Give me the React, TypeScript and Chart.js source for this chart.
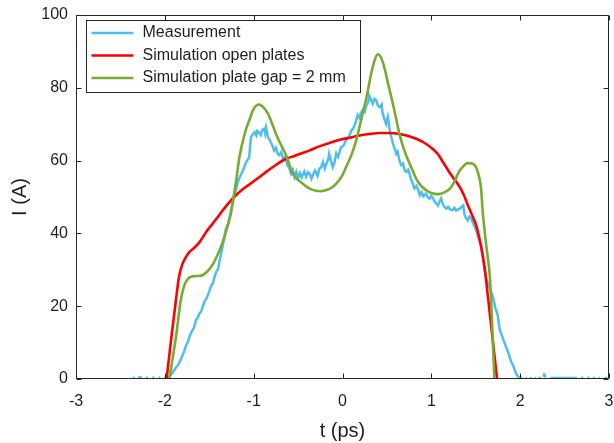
import React, { useEffect, useRef } from "react";
import { Chart, registerables } from "chart.js";

Chart.register(...registerables);

const FONT = '"Liberation Sans", Arial, Helvetica, sans-serif';
const INK = "#1f1f1f";
const AXIS = "#262626";

const seriesLabels = ["Measurement", "Simulation open plates", "Simulation plate gap = 2 mm"];
const seriesColors = ["#4DBEEE", "#FF0000", "#77AC30"];

const xTickValues = [-3, -2, -1, 0, 1, 2, 3];
const yTickValues = [0, 20, 40, 60, 80, 100];

// Measurement (noisy), null = gap
const measT = [
  -2.36, -2.34, -2.32, -2.30, -2.28, -2.26, -2.24, -2.21, -2.19, -2.17, -2.14, -2.12, -2.10, -2.07, -2.05, -2.03, -2.01, -1.98,
  -1.95, -1.92, -1.89, -1.86, -1.84, -1.81, -1.78, -1.76, -1.74, -1.72, -1.69, -1.67, -1.65, -1.63, -1.61, -1.59, -1.575,
  -1.55, -1.53, -1.50, -1.48, -1.46, -1.44, -1.42, -1.40, -1.39, -1.37, -1.35, -1.33, -1.31, -1.29, -1.27, -1.255, -1.24,
  -1.22, -1.20, -1.18, -1.16, -1.14, -1.12, -1.10, -1.08, -1.06, -1.05, -1.04, -1.03, -1.01, -0.99, -0.97, -0.96, -0.94,
  -0.92, -0.90, -0.88, -0.87, -0.86, -0.84, -0.82, -0.80, -0.79, -0.77, -0.75, -0.73, -0.71, -0.69, -0.67, -0.65, -0.635,
  -0.62, -0.60, -0.58, -0.56, -0.54, -0.52, -0.50, -0.48, -0.46, -0.45, -0.43, -0.41, -0.39, -0.37, -0.35, -0.33, -0.31,
  -0.30, -0.28, -0.26, -0.24, -0.22, -0.20, -0.18, -0.16, -0.15, -0.13, -0.11, -0.09, -0.07, -0.05, -0.03, -0.015, 0.01,
  0.04, 0.06, 0.08, 0.10, 0.12, 0.14, 0.155, 0.17, 0.19, 0.21, 0.23, 0.25, 0.27, 0.29, 0.30, 0.32, 0.34, 0.36, 0.38, 0.40,
  0.42, 0.44, 0.45, 0.47, 0.49, 0.51, 0.53, 0.55, 0.57, 0.59, 0.605, 0.62, 0.64, 0.66, 0.68, 0.70, 0.72, 0.74, 0.755, 0.77,
  0.79, 0.81, 0.83, 0.85, 0.87, 0.89, 0.91, 0.94, 0.96, 0.98, 1.00, 1.02, 1.04, 1.06, 1.075, 1.09, 1.11, 1.13, 1.15, 1.17,
  1.19, 1.21, 1.24, 1.26, 1.28, 1.30, 1.32, 1.34, 1.36, 1.375, 1.39, 1.41, 1.43, 1.45, 1.47, 1.49, 1.51, 1.525, 1.54, 1.56,
  1.58, 1.60, 1.62, 1.64, 1.66, 1.68, 1.70, 1.72, 1.73, 1.75, 1.77, 1.79, 1.81, 1.83, 1.845, 1.87, 1.90, 1.92, 1.94, 1.96,
  1.98, 2.00, 2.02, 2.04, 2.06, 2.075, 2.09, 2.11, 2.125, 2.14, 2.16, 2.175, 2.19, 2.21, 2.23, 2.25, 2.26, 2.27, 2.29, 2.33,
  2.34, 2.36, 2.62, 2.64, 2.66, 2.69, 2.71, 2.73, 2.76, 2.78, 2.80, 2.82, 2.84, 2.86, 2.88, 2.90, 2.92, 2.95, 2.98,
];
const measI = [
  0.3, 0.4, null, 0.3, 0.5, 0.2, null, 0.4, 0.3, null, 0.5, 0.3, null, 0.3, 0.4, null, 0.3, 0.2,
  0.6, 1.5, 2.6, 3.6, 4.3, 6.0, 7.8, 9.3, 10.2, 11.8, 13.4, 14.2, 16.2, 16.8, 18.0, 18.6, 19.8,
  21.5, 22.2, 24.0, 25.6, 26.2, 28.1, 29.5, 30.2, 31.7, 34.0, 36.5, 38.8, 41.5, 42.3, 44.0, 45.5, 48.0,
  50.2, 51.9, 54.0, 55.2, 56.3, 57.3, 58.6, 59.8, 60.5, 61.0, 64.0, 66.5, 67.2, 67.8, 66.9, 68.2, 67.8,
  67.0, 68.5, 68.8, 67.5, 69.0, 66.5, 65.8, 64.6, 64.2, 62.8, 63.5, 61.9, 61.5, 62.3, 60.5, 61.0, 60.1,
  58.7, 58.0, 56.4, 57.5, 55.5, 56.9, 55.2, 56.6, 55.4, 56.0, 57.0, 55.6, 56.8, 56.4, 55.0, 56.2, 57.3,
  56.9, 55.8, 57.8, 58.2, 59.6, 57.8, 59.2, 60.3, 61.9, 60.0, 58.2, 59.5, 62.0, 61.0, 62.6, 63.7, 64.1,
  65.6, 66.2, 67.0, 68.3, 68.8, 70.1, 71.0, 72.5, 71.8, 73.3, 74.0, 73.4, 75.2, 76.0, 77.9, 76.8, 75.6, 77.0, 76.5, 75.0,
  74.7, 75.4, 73.3, 71.5, 70.1, 72.0, 68.5, 66.5, 64.5, 63.0, 61.9, 62.5, 60.1, 58.8, 59.2, 57.3, 56.9, 57.5, 56.4, 55.0,
  53.7, 52.4, 53.0, 52.1, 50.5, 51.3, 50.2, 50.9, 50.0, 49.5, 50.3, 49.6, 48.6, 48.2, 47.7, 48.6, 49.6, 48.0, 47.2, 46.8,
  47.3, 46.6, 46.4, 47.0, 46.3, 46.6, 46.8, 47.3, 47.7, 45.0, 44.3, 43.6, 44.6, 44.1, 42.8, 41.8, 40.5, 39.0, 38.4, 37.0,
  33.5, 30.0, 27.5, 26.0, 24.8, 23.5, 21.8, 19.5, 18.9, 17.2, 13.5, 12.3, 10.8, 9.6, 8.6, 7.0, 4.6, 3.8, 2.3, 1.2,
  0.6, 0.4, 0.2, null, 0.3, 0.2, null, 0.4, 0.2, null, 0.3, 0.2, null, 0.3, 0.4, null, 0.6, 1.2, 0.5, null,
  0.3, 0.3, 0.3, 0.2, null, 0.4, 0.3, null, 0.3, 0.4, null, 0.2, 0.3, null, 0.3, 0.2, null, 0.3, 0.2,
];

// Simulation open plates
const openT = [
  -1.98, -1.93, -1.875, -1.84, -1.80, -1.76, -1.72, -1.67, -1.61, -1.56, -1.52, -1.47, -1.42, -1.32, -1.22, -1.13, -1.05,
  -0.95, -0.86, -0.75, -0.635, -0.55, -0.485, -0.37, -0.26, -0.15, -0.03, 0.08, 0.19, 0.30, 0.42, 0.53, 0.64, 0.75, 0.83,
  0.92, 1.02, 1.08, 1.13, 1.19, 1.24, 1.30, 1.36, 1.41, 1.45, 1.51, 1.56, 1.60, 1.64, 1.69, 1.74,
];
const openI = [
  0, 10.7, 21.7, 28.1, 31.7, 33.6, 35.0, 36.0, 37.6, 39.4, 40.9, 42.4, 44.0, 47.2, 50.0, 52.0, 53.4,
  55.2, 56.9, 58.8, 60.5, 61.2, 61.8, 62.8, 63.9, 64.8, 65.7, 66.3, 66.9, 67.3, 67.6, 67.6, 67.3, 66.7, 66.0,
  64.9, 63.1, 61.6, 59.6, 57.3, 55.5, 53.5, 50.9, 47.8, 45.5, 41.8, 36.3, 30.5, 22.0, 11.0, 0,
];

// Simulation plate gap = 2 mm
const gapT = [
  -1.95, -1.91, -1.875, -1.82, -1.78, -1.74, -1.69, -1.62, -1.575, -1.52, -1.46, -1.40, -1.35, -1.30, -1.255, -1.20, -1.16,
  -1.10, -1.05, -1.00, -0.94, -0.89, -0.84, -0.79, -0.75, -0.69, -0.635, -0.56, -0.45, -0.37, -0.30, -0.24, -0.18, -0.12,
  -0.07, -0.01, 0.04, 0.10, 0.155, 0.21, 0.27, 0.34, 0.40, 0.44, 0.47, 0.51, 0.55, 0.60, 0.64, 0.69, 0.74, 0.79, 0.83,
  0.88, 0.94, 1.00, 1.075, 1.14, 1.21, 1.26, 1.30, 1.35, 1.41, 1.46, 1.51, 1.54, 1.56, 1.58, 1.62, 1.66, 1.71,
];
const gapI = [
  0, 6.0, 11.5, 21.7, 25.8, 27.5, 28.2, 28.3, 28.5, 29.6, 31.5, 34.5, 37.5, 41.5, 46.0, 54.0, 61.0,
  67.5, 71.0, 74.2, 75.4, 74.6, 72.9, 70.0, 67.4, 64.2, 61.5, 56.4, 53.7, 52.3, 51.7, 51.6, 51.9, 52.6,
  53.7, 55.6, 58.2, 61.5, 65.6, 71.2, 77.4, 85.7, 89.2, 88.0, 85.7, 81.5, 77.4, 72.0, 67.4, 63.2, 60.0, 57.3, 55.0,
  53.2, 51.9, 51.1, 50.8, 51.2, 52.3, 54.2, 56.4, 58.2, 59.3, 59.2, 57.8, 55.3, 52.3, 45.5, 36.3, 27.6, 0,
];

const toPoints = (ts: number[], is: (number | null)[]) => ts.map((t, k) => ({ x: t, y: is[k] }));

function drawFrame(chart: any) {
  const { ctx, chartArea: a, scales } = chart;
  const L = Math.round(a.left) + 0.5;
  const R = Math.round(a.right) - 0.5;
  const T = Math.round(a.top) + 0.5;
  const B = Math.round(a.bottom) - 0.5;
  ctx.save();
  ctx.strokeStyle = AXIS;
  ctx.lineWidth = 1;
  ctx.beginPath();
  ctx.moveTo(L, T);
  ctx.lineTo(R, T);
  ctx.lineTo(R, B);
  ctx.lineTo(L, B);
  ctx.closePath();
  const tl = 5;
  xTickValues.forEach((v) => {
    const px = Math.round(scales.x.getPixelForValue(v)) + 0.5;
    ctx.moveTo(px, B);
    ctx.lineTo(px, B - tl);
    ctx.moveTo(px, T);
    ctx.lineTo(px, T + tl);
  });
  yTickValues.forEach((v) => {
    const py = Math.round(scales.y.getPixelForValue(v)) + 0.5;
    ctx.moveTo(L, py);
    ctx.lineTo(L + tl, py);
    ctx.moveTo(R, py);
    ctx.lineTo(R - tl, py);
  });
  ctx.stroke();
  ctx.restore();
}

function drawLegend(chart: any) {
  const { ctx, chartArea: a } = chart;
  const bx = Math.round(a.left) + 10.5;
  const by = Math.round(a.top) + 5.5;
  const bw = 274;
  const bh = 72;
  ctx.save();
  ctx.fillStyle = "#ffffff";
  ctx.fillRect(bx, by, bw, bh);
  ctx.strokeStyle = AXIS;
  ctx.lineWidth = 1;
  ctx.strokeRect(bx, by, bw, bh);
  ctx.font = `16px ${FONT}`;
  ctx.textBaseline = "middle";
  ctx.textAlign = "left";
  chart.data.datasets.forEach((ds: any, i: number) => {
    const ry = by + 12.5 + i * 22.5;
    ctx.strokeStyle = ds.borderColor;
    ctx.lineWidth = 2.6;
    ctx.beginPath();
    ctx.moveTo(bx + 5, ry);
    ctx.lineTo(bx + 47, ry);
    ctx.stroke();
    ctx.fillStyle = INK;
    ctx.fillText(ds.label, bx + 56, ry);
  });
  ctx.restore();
}

const overlayPlugin = {
  id: "matlabOverlay",
  afterDatasetsDraw(chart: any) {
    drawFrame(chart);
  },
  afterDraw(chart: any) {
    drawLegend(chart);
  },
};

export default function App() {
  const ref = useRef<HTMLCanvasElement | null>(null);

  useEffect(() => {
    document.body.style.margin = "0";
    const canvas = ref.current;
    if (!canvas) return;
    const chart = new Chart(canvas, {
      type: "line",
      data: {
        datasets: [
          {
            label: seriesLabels[0],
            data: toPoints(measT, measI),
            borderColor: seriesColors[0],
            borderWidth: 2.5,
            pointRadius: 0,
            tension: 0,
            spanGaps: false,
            order: 2,
          },
          {
            label: seriesLabels[1],
            data: toPoints(openT, openI),
            borderColor: seriesColors[1],
            borderWidth: 2.6,
            pointRadius: 0,
            cubicInterpolationMode: "monotone",
            order: 1,
          },
          {
            label: seriesLabels[2],
            data: toPoints(gapT, gapI),
            borderColor: seriesColors[2],
            borderWidth: 2.6,
            pointRadius: 0,
            cubicInterpolationMode: "monotone",
            order: 0,
          },
        ],
      },
      options: {
        animation: false,
        responsive: false,
        devicePixelRatio: 1,
        layout: { padding: { top: 15, right: 5, left: 0, bottom: 0 } },
        plugins: {
          legend: { display: false },
          tooltip: { enabled: false },
        },
        scales: {
          x: {
            type: "linear",
            min: -3,
            max: 3,
            afterFit: (s: any) => {
              s.height = 64;
              s.paddingLeft = 0;
              s.paddingRight = 0;
            },
            afterBuildTicks: (s: any) => {
              s.ticks = xTickValues.map((v) => ({ value: v }));
            },
            grid: { display: false, drawTicks: false },
            border: { display: false },
            ticks: {
              padding: 13,
              color: INK,
              font: { family: FONT, size: 16 },
              maxRotation: 0,
              callback: (v: any) => String(v),
            },
            title: {
              display: true,
              text: "t (ps)",
              color: INK,
              font: { family: FONT, size: 20 },
              padding: { top: 0, bottom: 0 },
            },
          },
          y: {
            type: "linear",
            min: 0,
            max: 100,
            afterFit: (s: any) => {
              s.width = 76;
              s.paddingTop = 0;
              s.paddingBottom = 0;
            },
            afterBuildTicks: (s: any) => {
              s.ticks = yTickValues.map((v) => ({ value: v }));
            },
            grid: { display: false, drawTicks: false },
            border: { display: false },
            ticks: {
              padding: 8,
              color: INK,
              font: { family: FONT, size: 16 },
              callback: (v: any) => String(v),
            },
            title: {
              display: true,
              text: "I (A)",
              color: INK,
              font: { family: FONT, size: 20 },
              padding: { top: 8, bottom: 0 },
            },
          },
        },
      },
      plugins: [overlayPlugin],
    } as any);
    return () => chart.destroy();
  }, []);

  return (
    <div style={{ position: "absolute", left: 0, top: 0, width: 614, height: 443 }}>
      <canvas ref={ref} width={614} height={443} />
    </div>
  );
}
